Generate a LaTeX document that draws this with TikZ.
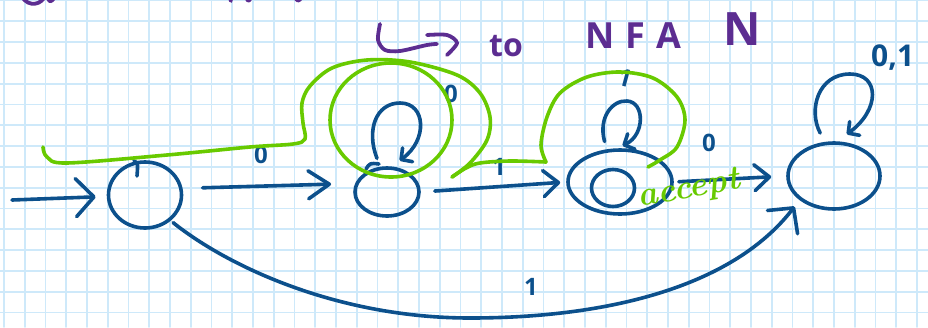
\documentclass[tikz,border=0pt]{standalone}
\usepackage{fontspec}
\newfontfamily\handfont{Open Sans}
\usetikzlibrary{arrows.meta,shapes.geometric}
\definecolor{inkblue}{RGB}{12,80,140}
\definecolor{inkgreen}{RGB}{104,202,0}
\definecolor{inkpurple}{RGB}{92,45,145}
\definecolor{gridblue}{RGB}{206,233,250}
\begin{document}
\begin{tikzpicture}[x=1pt,y=-1pt,line cap=round,line join=round,
  gridline/.style={draw=gridblue,line width=1.8pt},
  state/.style={ellipse,draw=inkblue,line width=3.6pt,inner sep=0pt},
  ink/.style={draw=inkblue,line width=3.6pt},
  hl/.style={draw=inkgreen,line width=3.6pt},
  pstroke/.style={draw=inkpurple,line width=3.8pt},
  tipL/.style={-{Straight Barb[length=18pt,width=38pt,round]}},
  tipN/.style={-{Straight Barb[length=21pt,width=28pt,round]}},
  tipM/.style={-{Straight Barb[length=15pt,width=26pt,round]}},
  tipS/.style={-{Straight Barb[length=8pt,width=17pt,round]}},
  lbl/.style={text=inkblue,inner sep=0pt,font=\handfont\bfseries\fontsize{24}{24}\selectfont},
  ptext/.style={text=inkpurple,inner sep=0pt,anchor=base west}]
\useasboundingbox (0,0) rectangle (928,327);
\begin{scope}
\clip (0,0) rectangle (928,327);
\fill[white] (0,0) rectangle (928,327);
% squared paper
\foreach \i in {0,...,44} \draw[gridline] ({4+20.75*\i},0) -- ++(0,327);
\foreach \j in {0,...,15} \draw[gridline] (0,{0.5+20.8*\j}) -- ++(928,0);

% remains of the line above
\draw[pstroke] (20,-8) .. controls (24,6) and (38,7) .. (44,-2);
\draw[pstroke] (47,-4) .. controls (50,3) .. (55,-3);
\draw[pstroke] (229,-4) -- (231,1);
\draw[pstroke] (246,-4) .. controls (248,2) .. (251,-2);
\draw[pstroke] (294,-4) .. controls (298,2) .. (302,-3);

% heading
\draw[pstroke] plot[smooth] coordinates {(380,24) (378,40) (385,50) (400,51) (427,45) (437,44)};
\draw[pstroke] plot[smooth] coordinates {(427,35) (447,35) (457,43) (447,55)};
\node[ptext,font=\handfont\bfseries\fontsize{32}{32}\selectfont] (to) at (489,56) {to};
\node[ptext,font=\handfont\bfseries\fontsize{36}{36}\selectfont\addfontfeature{LetterSpace=32}] (nfa) at (585,48) {NFA};
\node[ptext,font=\handfont\bfseries\fontsize{46}{46}\selectfont] (nname) at (723,45) {N};

% states
\node[state,minimum width=73pt,minimum height=66pt] (q0) at (145,195) {};
\node[state,minimum width=64pt,minimum height=48pt] (q1) at (387,192) {};
\node[state,minimum width=104pt,minimum height=64pt] (q2) at (620,182) {};
\node[state,minimum width=43pt,minimum height=37pt] (q2i) at (613,188) {};
\node[state,minimum width=92pt,minimum height=66pt] (q3) at (834,176) {};
\draw[ink] (134,161) .. controls (138,163) .. (137,176);
\draw[ink] (366,169) .. controls (370,163) .. (379,164);

% transitions
\coordinate (s) at (12,200);
\draw[ink,tipL,shorten >=11pt] (s) -- (q0);
\draw[ink,tipN,shorten <=20pt,shorten >=24pt] (q0.10) -- (q1.165);
\draw[ink,tipM,shorten <=14pt,shorten >=6pt] (q1.east) -- (q2.west);
\draw[ink,tipM,shorten <=5pt,shorten >=15pt] (q2.east) -- (q3.west);
\draw[ink,tipL,shorten <=3pt,shorten >=8pt] (q0.-45) .. controls (230,268) and (340,318) .. (470,318)
   .. controls (600,318) and (730,290) .. (q3.215);
\draw[ink,tipS,shorten <=9pt,shorten >=10pt] (q1.105) .. controls (366,130) and (376,103) .. (400,103)
   .. controls (426,103) and (428,140) .. (q1.80);
\draw[ink,tipS,shorten <=8pt,shorten >=6pt] (q2.112) .. controls (598,118) and (612,100) .. (627,101)
   .. controls (645,102) and (645,135) .. (q2.95);
\draw[ink,tipS,shorten <=10pt,shorten >=12pt] (q3.105) .. controls (808,110) and (818,74) .. (850,74)
   .. controls (880,74) and (880,110) .. (q3.85);

% transition labels
\node[lbl] (l01) at (261,155) {0};
\node[lbl] (l11) at (451,94) {0};
\node[lbl] (l12) at (499,167) {1};
\node[lbl,rotate=-15] (l22) at (625,78) {1};
\node[lbl] (l23) at (709,143) {0};
\node[lbl,anchor=base west,font=\handfont\bfseries\fontsize{30}{30}\selectfont] (l33) at (871,66) {0,1};
\node[lbl] (l03) at (531,287) {1};

% green annotation
\draw[hl] plot[smooth,tension=0.55] coordinates {(43,147) (47,157) (67,163) (167,155) (250,147) (293,144) (305,139) (303,123) (302,103) (310,86) (332,68) (367,60) (410,62) (457,75) (480,93) (490,117) (487,140) (470,163) (452,177)};
\draw[hl] plot[smooth,tension=0.55] coordinates {(452,177) (466,168) (480,163) (510,161) (546,162)};
\draw[hl] plot[smooth,tension=0.55] coordinates {(546,162) (541,145) (547,117) (560,93) (587,77) (620,72) (653,78) (677,97) (685,120) (677,147) (660,160) (648,167)};
\draw[hl] (391,120) ellipse[x radius=61pt,y radius=57pt];
\node[text=inkgreen,inner sep=0pt,rotate=10,font=\fontsize{34}{34}\selectfont\bfseries\itshape] (acc) at (689,190) {accept};
\end{scope}
\end{tikzpicture}
\end{document}
